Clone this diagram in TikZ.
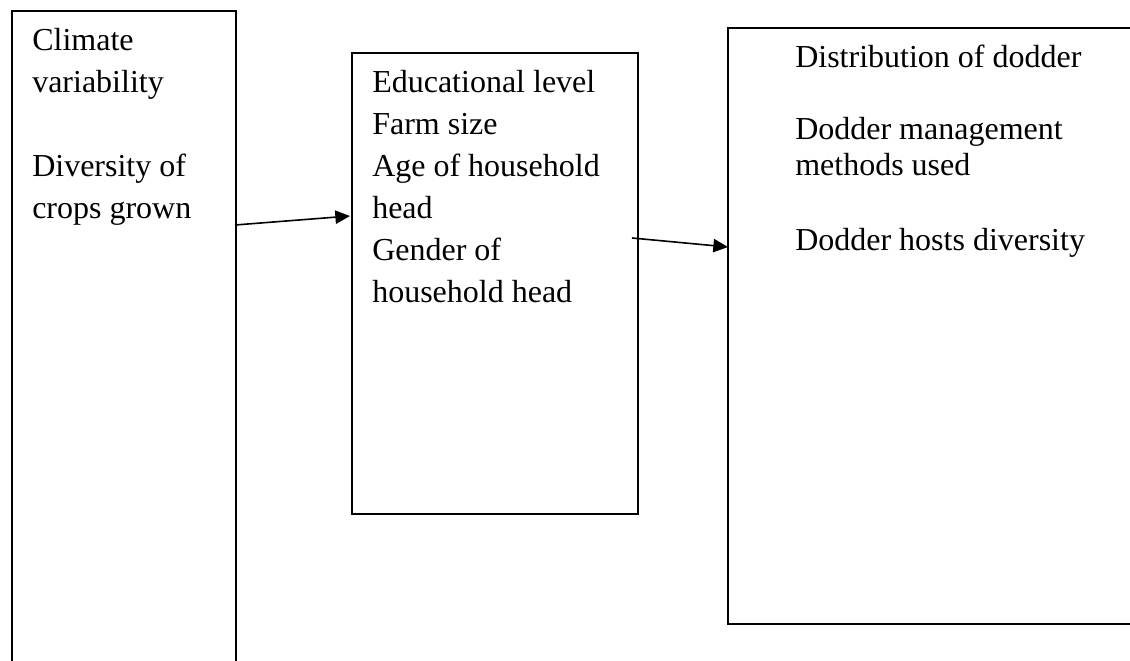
\documentclass[tikz,border=0pt]{standalone}
\usepackage{fontspec}
\setmainfont{Liberation Serif}
\usetikzlibrary{arrows.meta}

\begin{document}
\begin{tikzpicture}[x=0.75pt,y=0.75pt,yscale=-1,xscale=1,
	frame/.style={draw, line width=1.3pt, inner sep=0pt, anchor=north west},
	boxtext/.style={anchor=base west, inner sep=0pt, align=left, font=\fontsize{24}{31.5}\selectfont},
	link/.style={line width=1.2pt, -{Triangle[length=11pt,width=10pt]}}]
	\useasboundingbox (0,0) rectangle (1130,660);
	\clip (0,0) rectangle (1130,660);

	%Boxes
	\node[frame, minimum width=168pt, minimum height=495pt] (climatebox) at (11,10) {};
	\node[frame, minimum width=214.5pt, minimum height=345.75pt] (householdbox) at (351,52) {};
	\node[frame, minimum width=309.75pt, minimum height=447pt] (dodderbox) at (727,27) {};

	% Text Node (base = last line)
	\node[boxtext] (climate) at (32,218) {Climate\\variability\\[31.5pt]Diversity of\\crops grown};
	% Text Node
	\node[boxtext] (household) at (372,302) {Educational level\\Farm size\\Age of household\\head\\Gender of\\household head};
	% Text Node
	\node[boxtext, font=\fontsize{24}{27}\selectfont] (dodder) at (795,250) {Distribution of dodder\\[27pt]Dodder management\\methods used\\[29pt]Dodder hosts diversity};

	%Straight Lines
	\coordinate (outclimate) at (235,225);
	\coordinate (inhousehold) at (350,216);
	\coordinate (outhousehold) at (632,238);
	\coordinate (indodder) at (728,247);
	\draw[link] (outclimate) -- (inhousehold);
	\draw[link] (outhousehold) -- (indodder);

\end{tikzpicture}
\end{document}
